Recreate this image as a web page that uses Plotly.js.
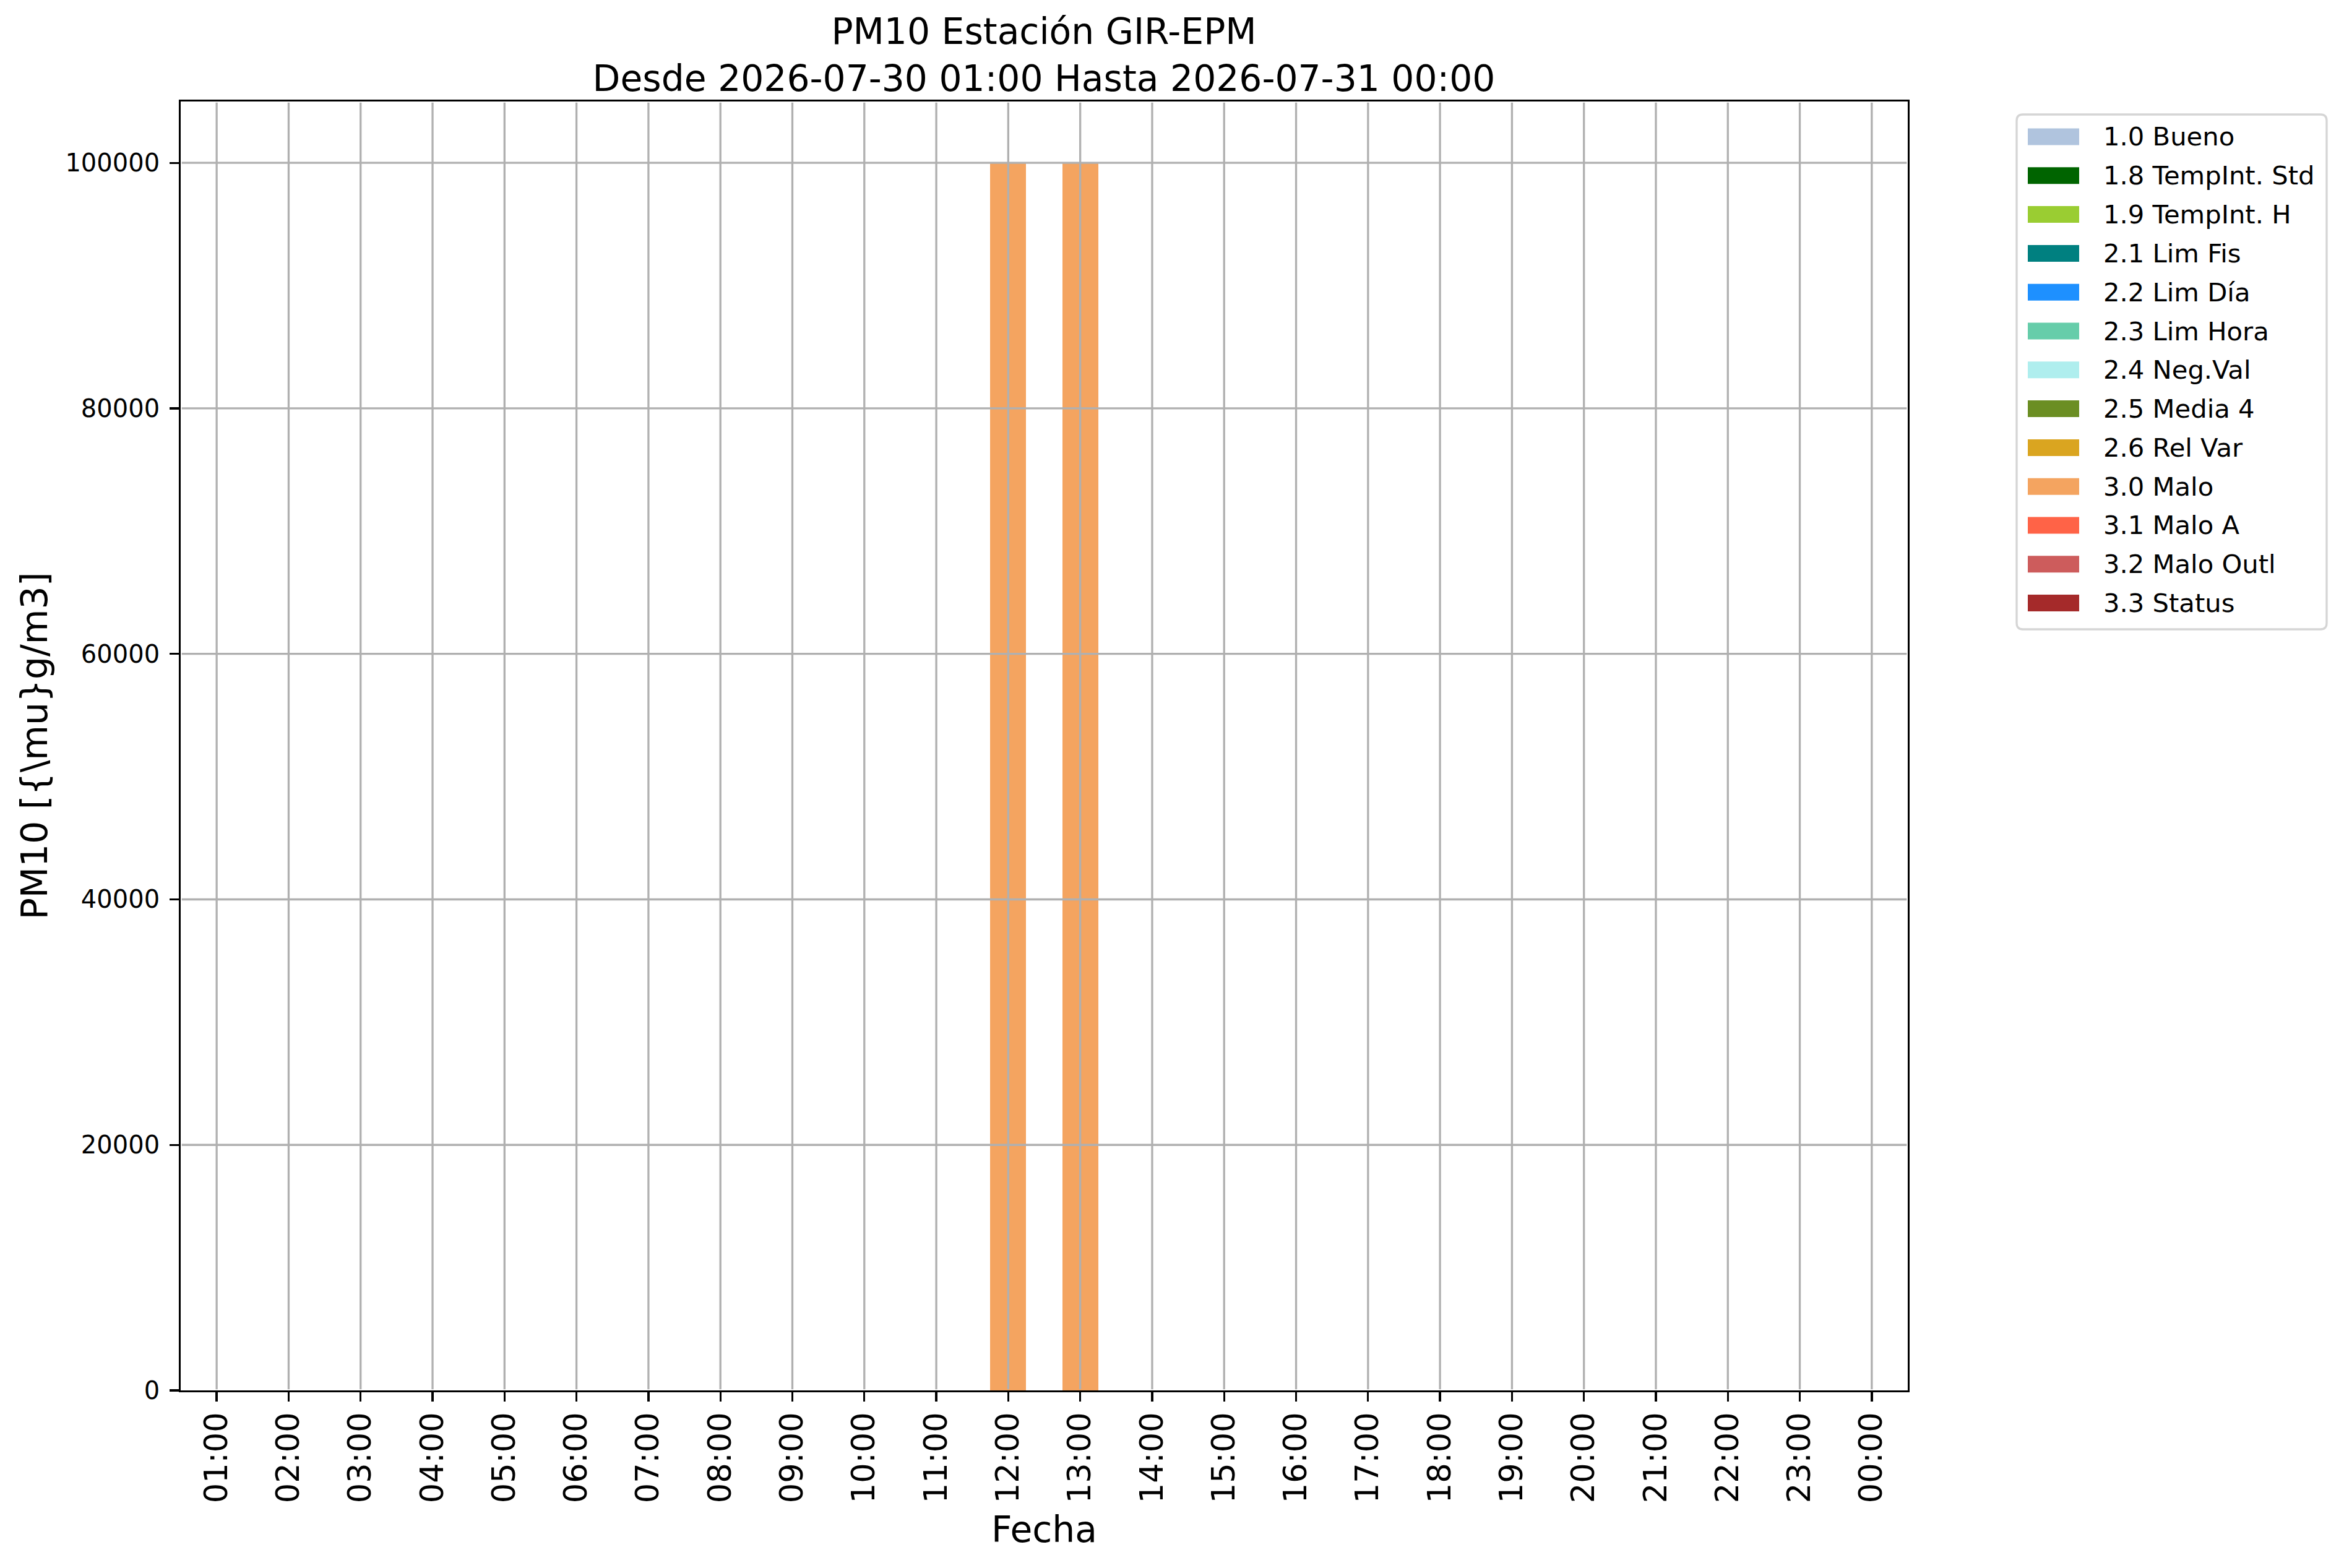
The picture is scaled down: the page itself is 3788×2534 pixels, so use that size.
<!DOCTYPE html>
<html>
<head>
<meta charset="utf-8">
<script src="https://cdn.plot.ly/plotly-3.0.1.min.js"></script>
<style>html,body{margin:0;padding:0;background:#fff;}#chart{width:3788px;height:2534px;}</style>
</head>
<body>
<div id="chart"></div>
<script>
// ---- Data ----
const hours = ["01:00","02:00","03:00","04:00","05:00","06:00","07:00","08:00","09:00","10:00","11:00","12:00",
               "13:00","14:00","15:00","16:00","17:00","18:00","19:00","20:00","21:00","22:00","23:00","00:00"];
const seriesNames = ["1.0 Bueno","1.8 TempInt. Std","1.9 TempInt. H","2.1 Lim Fis","2.2 Lim Día","2.3 Lim Hora",
                     "2.4 Neg.Val","2.5 Media 4","2.6 Rel Var","3.0 Malo","3.1 Malo A","3.2 Malo Outl","3.3 Status"];
const seriesColors = ["#B0C4DE","#006400","#9ACD32","#008080","#1E90FF","#66CDAA",
                      "#AFEEEE","#6B8E23","#DAA520","#F4A460","#FF6347","#CD5C5C","#A52A2A"];
const zeros = [0,0,0,0,0,0,0,0,0,0,0,0,0,0,0,0,0,0,0,0,0,0,0,0];
const bueno      = zeros.slice();
const tempIntStd = zeros.slice();
const tempIntH   = zeros.slice();
const limFis     = zeros.slice();
const limDia     = zeros.slice();
const limHora    = zeros.slice();
const negVal     = zeros.slice();
const media4     = zeros.slice();
const relVar     = zeros.slice();
const malo       = [0,0,0,0,0,0,0,0,0,0,0,100000,100000,0,0,0,0,0,0,0,0,0,0,0];
const maloA      = zeros.slice();
const maloOutl   = zeros.slice();
const status     = zeros.slice();
const seriesValues = [bueno,tempIntStd,tempIntH,limFis,limDia,limHora,negVal,media4,relVar,malo,maloA,maloOutl,status];
const yTickVals = [0,20000,40000,60000,80000,100000];
const yTickText = ["0","20000","40000","60000","80000","100000"];
const titleLine1 = "PM10 Estación GIR-EPM";
const titleLine2 = "Desde 2026-07-30 01:00 Hasta 2026-07-31 00:00";

// ---- Layout geometry (pixels) ----
const W = 3788, H = 2534;
const L = 292, R = 3083, T = 164, B = 2247;
const pw = R - L, ph = B - T;
const px2x = p => (p - L) / pw;
const px2y = p => (B - p) / ph;
const FONT = "DejaVu Sans";

const traces = seriesNames.map((n, i) => ({
  type: "bar",
  name: n,
  x: hours,
  y: seriesValues[i],
  width: 0.5,
  marker: {color: seriesColors[i], line: {width: 0}},
  showlegend: false,
  hoverinfo: "skip"
}));

const shapes = [];
const annotations = [];
// grid lines drawn above bars (as in reference)
hours.forEach(h => {
  shapes.push({type: "line", xref: "x", yref: "paper", x0: h, x1: h, y0: 1.7/ph, y1: 1 - 1.7/ph,
               line: {color: "#b0b0b0", width: 3.3}, layer: "above"});
});
yTickVals.filter(v => v > 0).forEach(v => {
  shapes.push({type: "line", xref: "paper", yref: "y", x0: 1.7/pw, x1: 1 - 1.7/pw, y0: v, y1: v,
               line: {color: "#b0b0b0", width: 3.3}, layer: "above"});
});

// legend (manual, matplotlib style)
const lgL = 3259, lgR = 3760, lgT = 185, lgB = 1017, rad = 10;
const rx = rad / pw, ry = rad / ph;
const xl = px2x(lgL), xr = px2x(lgR), yt = px2y(lgT), yb = px2y(lgB);
shapes.push({
  type: "path", xref: "paper", yref: "paper",
  path: `M ${xl+rx},${yt} L ${xr-rx},${yt} Q ${xr},${yt} ${xr},${yt-ry} L ${xr},${yb+ry} Q ${xr},${yb} ${xr-rx},${yb} ` +
        `L ${xl+rx},${yb} Q ${xl},${yb} ${xl},${yb+ry} L ${xl},${yt-ry} Q ${xl},${yt} ${xl+rx},${yt} Z`,
  line: {color: "#d5d5d5", width: 3.3}, fillcolor: "rgba(255,255,255,0.8)", layer: "above"
});
const row0 = 221, rowStep = 62.8, swH = 27;
seriesNames.forEach((n, i) => {
  const c = row0 + i * rowStep;
  shapes.push({type: "rect", xref: "paper", yref: "paper",
               x0: px2x(3277), x1: px2x(3360), y0: px2y(c + swH/2), y1: px2y(c - swH/2),
               fillcolor: seriesColors[i], line: {width: 0}, layer: "above"});
  annotations.push({xref: "paper", yref: "paper", x: px2x(3397), y: px2y(c), xanchor: "left", yanchor: "middle",
                    text: n, showarrow: false, font: {family: FONT, size: 41.7, color: "#000"}});
});

const layout = {
  width: W, height: H,
  paper_bgcolor: "#fff", plot_bgcolor: "#fff",
  margin: {l: L, r: W - R, t: T, b: H - B, pad: 0},
  showlegend: false,
  barmode: "stack",
  font: {family: FONT, color: "#000"},
  title: {
    text: titleLine1 + "<br>" + titleLine2,
    font: {family: FONT, size: 58.3, color: "#000"},
    x: px2x(1687), xref: "paper", xanchor: "center",
    y: 1 - 71 / H, yref: "container", yanchor: "top"
  },
  xaxis: {
    type: "category", categoryorder: "array", categoryarray: hours,
    range: [-0.5, 23.5],
    tickmode: "array", tickvals: hours, ticktext: hours,
    tickangle: -90,
    tickfont: {family: FONT, size: 51, color: "#000"},
    ticks: "outside", ticklen: 14.6, tickwidth: 3.3, tickcolor: "#000",
    ticklabelstandoff: -3,
    showline: true, linecolor: "#000", linewidth: 3.3, mirror: true,
    showgrid: false, zeroline: false, fixedrange: true, automargin: false,
    title: {text: "Fecha", font: {family: FONT, size: 58.3, color: "#000"}, standoff: 24}
  },
  yaxis: {
    range: [0, 105000],
    tickmode: "array", tickvals: yTickVals, ticktext: yTickText,
    tickfont: {family: FONT, size: 40, color: "#000"},
    ticks: "outside", ticklen: 14.6, tickwidth: 3.3, tickcolor: "#000",
    ticklabelstandoff: 8,
    showline: true, linecolor: "#000", linewidth: 3.3, mirror: true,
    showgrid: false, zeroline: false, fixedrange: true, automargin: false,
    title: {text: "PM10 [{\\mu}g/m3]", font: {family: FONT, size: 58.3, color: "#000"}, standoff: 11}
  },
  shapes: shapes,
  annotations: annotations
};

Plotly.newPlot("chart", traces, layout, {staticPlot: true, displayModeBar: false});
</script>
</body>
</html>
